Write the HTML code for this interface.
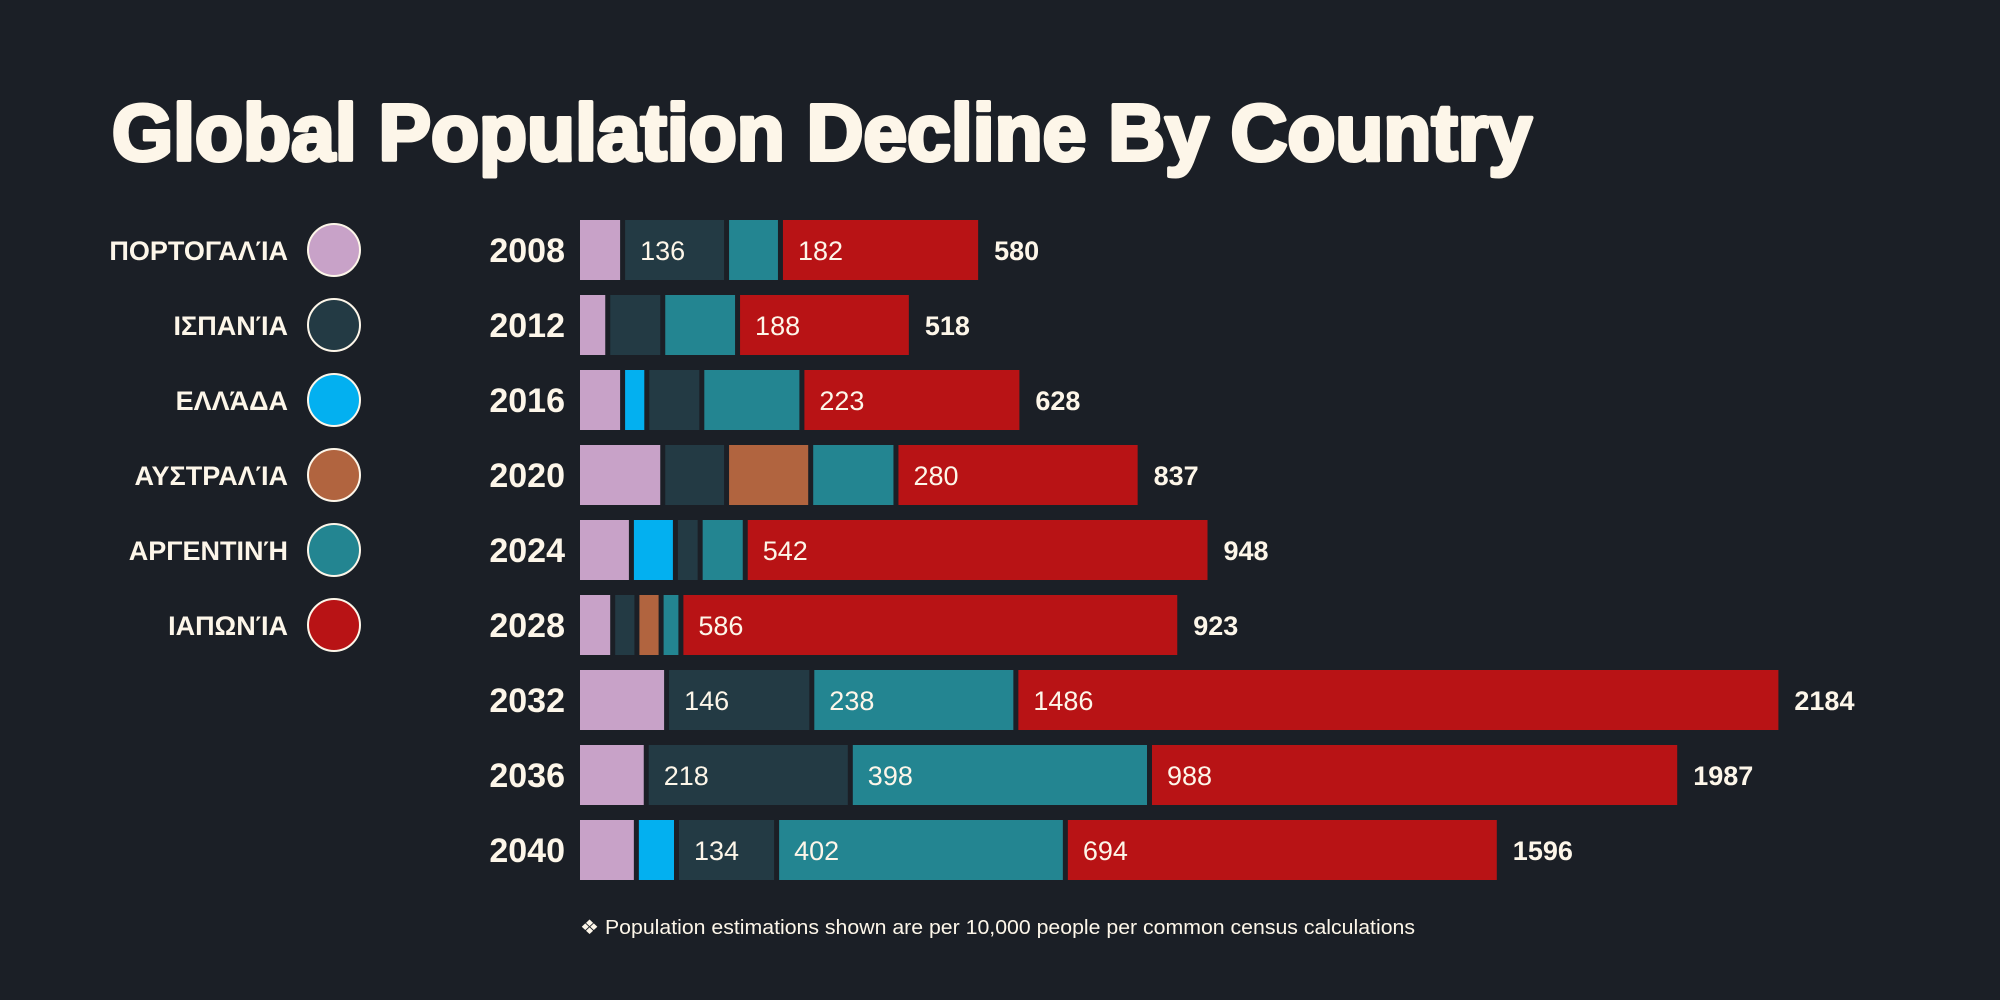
<!DOCTYPE html>
<html><head><meta charset="utf-8"><style>
html,body{margin:0;padding:0;background:#1b1f26;}
svg{display:block;}
text{font-family:"Liberation Sans",sans-serif;fill:#fdf6e9;}
</style></head><body>
<svg id="chart" width="2000" height="1000" viewBox="0 0 2000 1000">
<rect width="2000" height="1000" fill="#1b1f26"/>
<text x="112" y="160" font-size="80" font-weight="bold" stroke="#fdf6e9" stroke-width="4" stroke-linejoin="round" textLength="1420" lengthAdjust="spacingAndGlyphs">Global Population Decline By Country</text>
<text x="580" y="934" font-size="20" textLength="835" lengthAdjust="spacingAndGlyphs">❖ Population estimations shown are per 10,000 people per common census calculations</text>
<g id="legend"></g>
<g id="bars"></g>
</svg>
<script>
const years = ["2008","2012","2016","2020","2024","2028","2032","2036","2040"];
const countries = ["ΠΟΡΤΟΓΑΛΊΑ","ΙΣΠΑΝΊΑ","ΕΛΛΆΔΑ","ΑΥΣΤΡΑΛΊΑ","ΑΡΓΕΝΤΙΝΉ","ΙΑΠΩΝΊΑ"];
const colors = ["#c8a2c8","#233a44","#03b0f0","#b1643f","#238591","#b81315"];
// stacking order in bars: Portugal, Greece, Spain, Australia, Argentina, Japan
const portugal  = [82, 55, 82, 155, 98, 64, 162, 125, 107];
const greece    = [0, 0, 44, 0, 80, 0, 0, 0, 73];
const spain     = [189, 100, 100, 116, 45, 44, 264, 371, 182];
const australia = [0, 0, 0, 153, 0, 44, 0, 0, 0];
const argentina = [98, 136, 182, 155, 82, 36, 371, 544, 525];
const japan     = [364, 316, 400, 444, 845, 907, 1391, 964, 789];
const spainLabels     = ["136","","","","","","146","218","134"];
const argentinaLabels = ["","","","","","","238","398","402"];
const japanLabels     = ["182","188","223","280","542","586","1486","988","694"];
const totalLabels     = ["580","518","628","837","948","923","2184","1987","1596"];

const NS="http://www.w3.org/2000/svg";
const x0=580, k=0.55, gap=5, rowTop=220, rowPitch=75, barH=60;
const xScale=v=>v*k;
const yScale=i=>rowTop+i*rowPitch;
const bars=document.getElementById('bars');
const legend=document.getElementById('legend');
function mk(tag,attrs,parent){const e=document.createElementNS(NS,tag);for(const a in attrs)e.setAttribute(a,attrs[a]);parent.appendChild(e);return e;}

countries.forEach((c,i)=>{
  const cy=yScale(i)+barH/2;
  const t=mk('text',{x:288,y:cy+10,'font-size':27,'font-weight':'bold','text-anchor':'end'},legend);
  t.textContent=c;
  
  
  const ci=mk('circle',{cx:334,cy:cy,r:26,fill:colors[i],stroke:'#fdf6e9','stroke-width':2},legend);
  
  
});

const order=[[portugal,0,null],[greece,2,null],[spain,1,spainLabels],[australia,3,null],[argentina,4,argentinaLabels],[japan,5,japanLabels]];
years.forEach((yr,r)=>{
  const y=yScale(r);
  const yl=mk('text',{x:565,y:y+barH/2+12,'font-size':34,'font-weight':'bold','text-anchor':'end'},bars);
  yl.textContent=yr;
  
  
  let x=x0;
  order.forEach(([arr,ci,labels])=>{
    const v=arr[r];
    if(!v)return;
    const w=Math.max(1,xScale(v)-gap);
    const rc=mk('rect',{x:x,y:y,width:w,height:barH,fill:colors[ci]},bars);
    
    
    if(labels&&labels[r]){
      const lt=mk('text',{x:x+15,y:y+barH/2+10,'font-size':27},bars);
      lt.textContent=labels[r];
      
      
    }
    x+=xScale(v);
  });
  const tt=mk('text',{x:x+11,y:y+barH/2+10,'font-size':27,'font-weight':'bold'},bars);
  tt.textContent=totalLabels[r];
  
  
});
</script>
</body></html>
